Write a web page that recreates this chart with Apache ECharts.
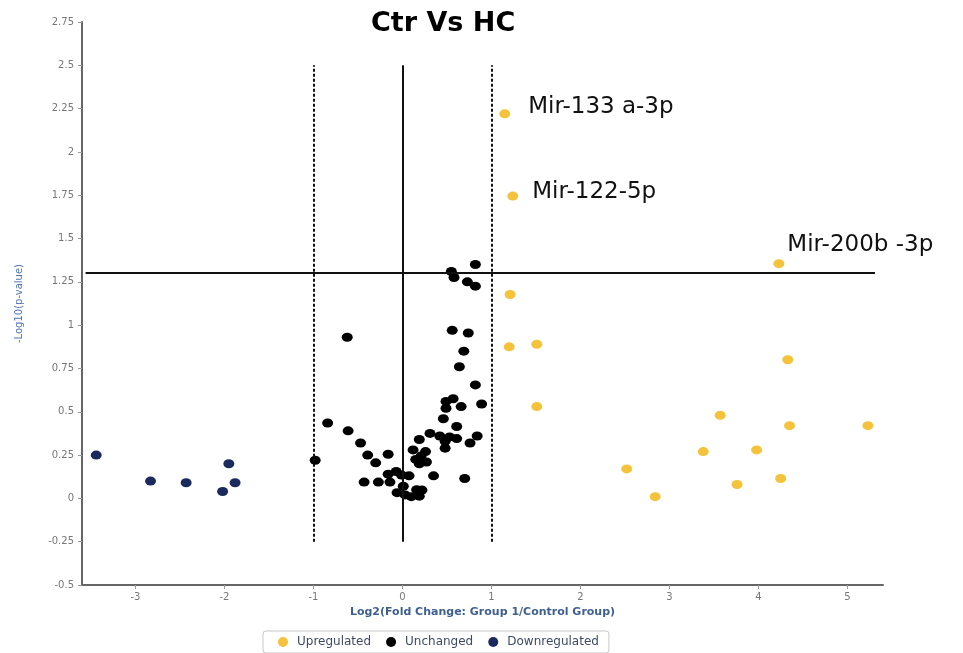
<!DOCTYPE html>
<html>
<head>
<meta charset="utf-8">
<script src="https://cdn.jsdelivr.net/npm/echarts@6/dist/echarts.min.js"></script>
<style>
html,body{margin:0;padding:0;background:#fff;}
#chart{width:963px;height:653px;}
</style>
</head>
<body>
<div id="chart"></div>
<script>
// ---- data ----
var xTicks = [-3, -2, -1, 0, 1, 2, 3, 4, 5];
var upregulated = [
  [1.15, 2.22], [1.24, 1.745], [4.23, 1.355], [1.21, 1.177], [1.20, 0.875],
  [1.51, 0.89], [1.51, 0.53], [4.33, 0.80], [3.57, 0.48], [4.35, 0.42],
  [5.23, 0.42], [3.38, 0.27], [3.98, 0.28], [2.52, 0.17], [2.84, 0.01],
  [3.76, 0.08], [4.25, 0.115]
];
var upLabels = ["Mir-133 a-3p", "Mir-122-5p", "Mir-200b -3p"];
var unchanged = [
  [0.82, 1.35], [0.55, 1.31], [0.58, 1.275], [0.73, 1.25], [0.82, 1.225],
  [0.56, 0.97], [0.74, 0.955], [-0.62, 0.93], [0.69, 0.85], [0.64, 0.76],
  [0.82, 0.655], [0.57, 0.575], [0.49, 0.56], [0.89, 0.545], [0.66, 0.53],
  [0.49, 0.52], [-0.84, 0.435], [0.46, 0.46], [0.61, 0.415], [-0.61, 0.39],
  [0.31, 0.375], [0.84, 0.36], [0.42, 0.36], [0.53, 0.355], [0.61, 0.345],
  [0.48, 0.33], [0.76, 0.32], [0.19, 0.34], [0.48, 0.29], [-0.47, 0.32],
  [-0.39, 0.25], [-0.16, 0.255], [-0.30, 0.205], [-0.98, 0.22], [0.12, 0.28],
  [0.26, 0.27], [0.15, 0.225], [0.27, 0.21], [0.19, 0.20], [0.21, 0.245],
  [0.35, 0.13], [0.70, 0.115], [-0.43, 0.094], [-0.27, 0.094], [-0.14, 0.094],
  [-0.16, 0.14], [-0.07, 0.155], [-0.01, 0.135], [0.075, 0.13], [-0.06, 0.033],
  [0.03, 0.02], [0.10, 0.01], [0.16, 0.05], [0.22, 0.048], [0.19, 0.013],
  [0.01, 0.07]
];
var downregulated = [
  [-3.44, 0.25], [-2.83, 0.10], [-2.43, 0.09], [-1.95, 0.20], [-1.88, 0.09], [-2.02, 0.04]
];
var pThreshold = 1.3;
var fcLines = [-1, 1];
var zeroLine = 0;
var vLineRange = [-0.25, 2.5];
var hLineRange = [-3.56, 5.31];

// label placement tweaks (pixels)
var labelOffsets = [[18, -7], [14, -4], [3, -19]];

var upData = upregulated.map(function (p, i) {
  var item = { value: p };
  if (i < upLabels.length) {
    item.label = {
      show: true,
      formatter: upLabels[i],
      position: 'right',
      distance: 0,
      offset: labelOffsets[i],
      fontFamily: 'DejaVu Sans',
      fontSize: 23,
      color: '#111'
    };
  }
  return item;
});

var markLines = [];
fcLines.forEach(function (v) {
  markLines.push([{ coord: [v, vLineRange[0]], lineStyle: { type: [3, 2], width: 2, color: '#111' } },
                  { coord: [v, vLineRange[1]] }]);
});
markLines.push([{ coord: [zeroLine, vLineRange[0]], lineStyle: { type: 'solid', width: 2, color: '#111' } },
                { coord: [zeroLine, vLineRange[1]] }]);
markLines.push([{ coord: [hLineRange[0], pThreshold], lineStyle: { type: 'solid', width: 2, color: '#111' } },
                { coord: [hLineRange[1], pThreshold] }]);

var sym = [11, 9];
var chart = echarts.init(document.getElementById('chart'), null, { renderer: 'canvas' });
chart.setOption({
  animation: false,
  backgroundColor: '#fff',
  title: {
    text: 'Ctr Vs HC',
    left: 371,
    top: 10,
    padding: 0,
    textStyle: { fontFamily: 'DejaVu Sans', fontWeight: 'bold', fontSize: 27, color: '#000' }
  },
  legend: {
    left: 263,
    top: 631,
    padding: [5, 10, 5, 15],
    itemGap: 15,
    itemWidth: 10,
    itemHeight: 10,
    icon: 'circle',
    borderColor: '#c8c8c8',
    borderWidth: 1,
    borderRadius: 3,
    textStyle: { fontFamily: 'DejaVu Sans', fontSize: 12, color: '#3d4a66', padding: [0, 0, 0, 4] },
    data: ['Upregulated', 'Unchanged', 'Downregulated']
  },
  grid: { left: 82, right: 80, top: 22, bottom: 68 },
  xAxis: {
    type: 'value',
    min: -3.6,
    max: 5.4,
    name: 'Log2(Fold Change: Group 1/Control Group)',
    nameLocation: 'middle',
    nameGap: 20,
    nameTextStyle: { fontFamily: 'DejaVu Sans', fontWeight: 'bold', fontSize: 11, color: '#3f5f8f' },
    splitLine: { show: false },
    axisLine: { onZero: false, lineStyle: { color: '#666', width: 2 } },
    axisTick: { show: true, customValues: xTicks, length: 4, lineStyle: { color: '#999' } },
    axisLabel: { customValues: xTicks, fontFamily: 'DejaVu Sans', fontSize: 10, color: '#777', margin: 7 }
  },
  yAxis: {
    type: 'value',
    min: -0.5,
    max: 2.75,
    interval: 0.25,
    name: '-Log10(p-value)',
    nameLocation: 'middle',
    nameGap: 58,
    nameRotate: 90,
    nameTextStyle: { fontFamily: 'DejaVu Sans', fontSize: 10, color: '#4f75b0' },
    splitLine: { show: false },
    axisLine: { show: true, onZero: false, lineStyle: { color: '#666', width: 2 } },
    axisTick: { show: true, length: 4, lineStyle: { color: '#999' } },
    axisLabel: { fontFamily: 'DejaVu Sans', fontSize: 10, color: '#777', margin: 8 }
  },
  series: [
    {
      name: 'lines',
      type: 'scatter',
      data: [],
      z: 1,
      silent: true,
      markLine: { silent: true, symbol: 'none', label: { show: false }, animation: false, data: markLines }
    },
    {
      name: 'Upregulated',
      type: 'scatter',
      symbol: 'circle',
      symbolSize: sym,
      itemStyle: { color: '#F5C33B', opacity: 1 },
      data: upData,
      z: 3
    },
    {
      name: 'Unchanged',
      type: 'scatter',
      symbol: 'circle',
      symbolSize: sym,
      itemStyle: { color: '#000', opacity: 1 },
      data: unchanged,
      z: 3
    },
    {
      name: 'Downregulated',
      type: 'scatter',
      symbol: 'circle',
      symbolSize: sym,
      itemStyle: { color: '#1B2A5C', opacity: 1 },
      data: downregulated,
      z: 3
    }
  ]
});
</script>
</body>
</html>
